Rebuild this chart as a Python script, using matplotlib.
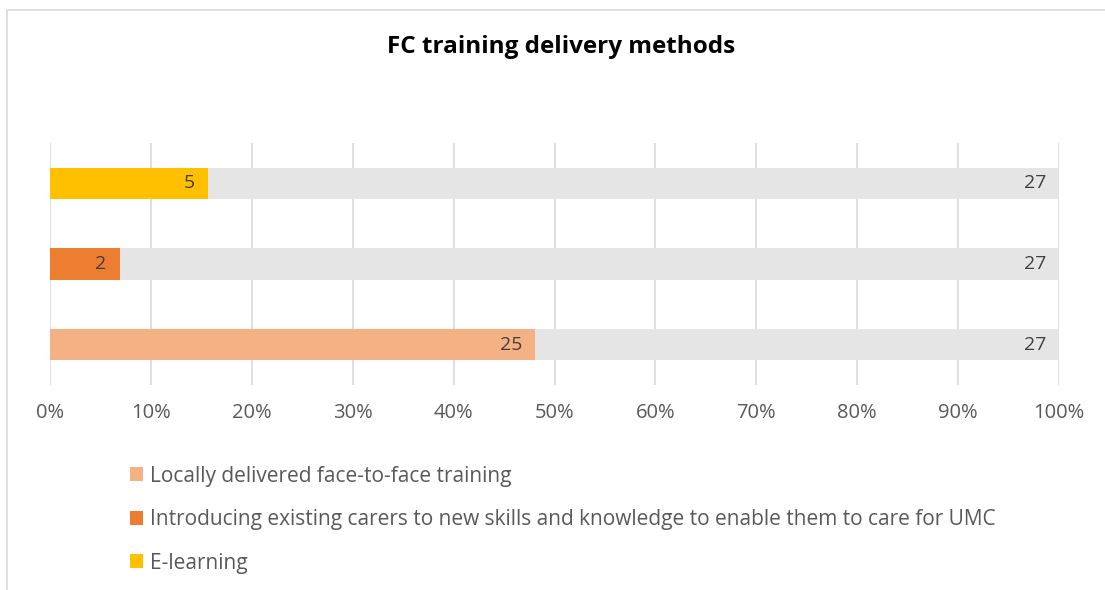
import matplotlib.pyplot as plt
from matplotlib.patches import Rectangle

# data
methods = ["Locally delivered face-to-face training",
           "Introducing existing carers to new skills and knowledge to enable them to care for UMC",
           "E-learning"]
yes_counts = [25, 2, 5]
total_counts = [27, 27, 27]
colors = ["#F4B183", "#ED7D31", "#FFC000"]
grey = "#E5E5E5"
ticks = [0, 10, 20, 30, 40, 50, 60, 70, 80, 90, 100]

plt.rcParams['font.family'] = ['Open Sans', 'DejaVu Sans']
txt = "#595959"

fig = plt.figure(figsize=(11.05, 5.9), dpi=100)
ax = fig.add_axes([50/1105, 205/590, 1009/1105, 242/590])

handles = []
for i in range(len(methods)):
    s = yes_counts[i] + total_counts[i]
    p1 = 100 * yes_counts[i] / s
    p2 = 100 * total_counts[i] / s
    b = ax.barh(i, p1, height=0.39, color=colors[i], label=methods[i], zorder=2)
    ax.barh(i, p2, left=p1, height=0.39, color=grey, zorder=2)
    handles.append(b)
    ax.text(p1 - 1.3, i, str(yes_counts[i]), ha='right', va='center',
            fontsize=14, color="#404040", zorder=3)
    ax.text(98.7, i, str(total_counts[i]), ha='right', va='center',
            fontsize=14, color="#404040", zorder=3)

ax.set_xlim(0, 100)
ax.set_ylim(-0.5, 2.5)
ax.set_xticks(ticks)
ax.set_xticklabels([f"{t}%" for t in ticks], fontsize=14.5, color=txt)
ax.set_yticks([])
ax.tick_params(axis='x', length=0, pad=13)
ax.grid(axis='x', color="#D9D9D9", linewidth=1.2, zorder=0)
for sp in ax.spines.values():
    sp.set_visible(False)

fig.text(561/1105, 1 - 47/590, "FC training delivery methods", ha='center', va='center',
         fontsize=17.5, fontweight='bold', color="#000000")

leg = fig.legend(handles=handles, loc='upper left', bbox_to_anchor=(111/1105, 1 - 447/590),
                 frameon=False, fontsize=15, labelcolor=txt, handlelength=0.65,
                 handleheight=0.65, handletextpad=0.3, labelspacing=1.08)

fig.patches.append(Rectangle((7/1105, -0.1), 1.2, 1 - 10/590 + 0.1, transform=fig.transFigure,
                             fill=False, edgecolor="#D9D9D9", linewidth=1.2))

fig.savefig("out.png", dpi=100)
